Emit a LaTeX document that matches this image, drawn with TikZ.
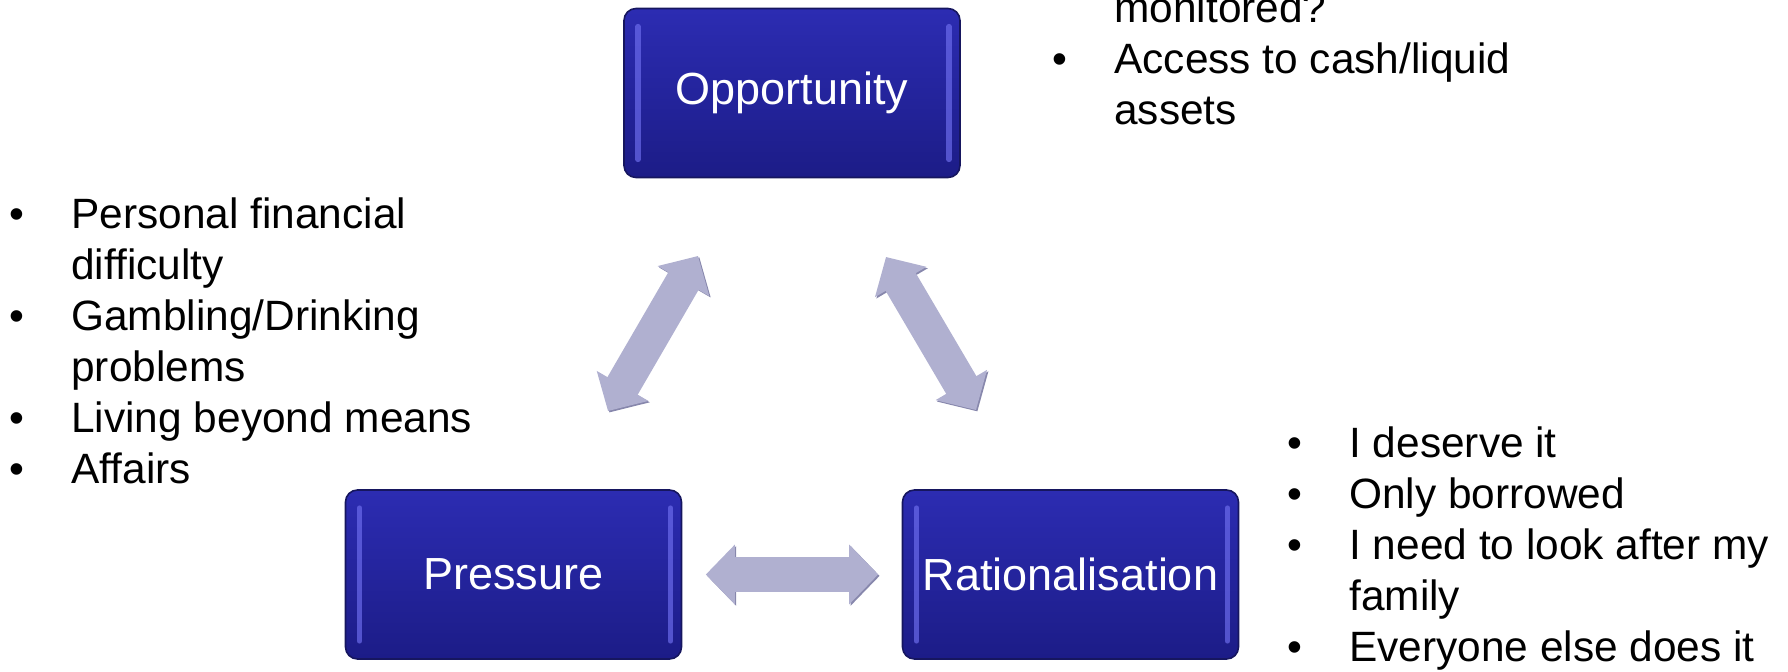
\documentclass[tikz,border=0pt]{standalone}
\usepackage{fontspec}
\setmainfont{Liberation Sans}
\usetikzlibrary{positioning,arrows.meta}

\definecolor{boxtop}{RGB}{44,44,178}
\definecolor{boxbot}{RGB}{28,28,135}
\definecolor{boxrim}{RGB}{22,22,95}
\definecolor{boxglint}{RGB}{112,112,240}
\definecolor{arrowfill}{RGB}{176,176,208}
\definecolor{arrowedge}{RGB}{135,135,172}

\tikzset{
  fraudbox/.style = {draw=boxrim, line width=0.8pt, rounded corners=6pt,
    top color=boxtop, bottom color=boxbot,
    minimum width=168pt, minimum height=84.5pt,
    text=white, font=\fontsize{22.5}{27}\selectfont,
    path picture={
      \draw[boxglint, line width=2.6pt, line cap=round, opacity=0.65]
        ([xshift=7pt,yshift=-9pt]path picture bounding box.north west) --
        ([xshift=7pt,yshift=9pt]path picture bounding box.south west);
      \draw[boxglint, line width=2.6pt, line cap=round, opacity=0.65]
        ([xshift=-5.5pt,yshift=-9pt]path picture bounding box.north east) --
        ([xshift=-5.5pt,yshift=9pt]path picture bounding box.south east);
    }},
  twoway/.style = {draw=arrowfill, line width=17.5pt,
    {Triangle[width=29pt,length=14.5pt]}-{Triangle[width=29pt,length=14.5pt]},
    preaction={draw=arrowedge, transform canvas={shift={(0.7pt,-0.7pt)}}}},
  bullets/.style = {anchor=base west, inner sep=0pt,
    font=\fontsize{21.2}{25.5}\selectfont}
}

\begin{document}
\begin{tikzpicture}[x=0.5pt, y=-0.5pt, on grid]
    \useasboundingbox (0,0) rectangle (1788,672);
    \clip (0,0) rectangle (1788,672);

    % the three corners of the triangle
    \node[fraudbox] (opp) at (792,93) {Opportunity};
    \node[fraudbox, below left=240.75pt and 139.25pt of opp] (pres) {Pressure};
    \node[fraudbox, right=278.5pt of pres] (rat) {Rationalisation};

    % ends of the slanted arrows
    \coordinate (oppL) at (698,256);
    \coordinate (presT) at (608,411);
    \coordinate (oppR) at (886,257);
    \coordinate (ratT) at (976,410);

    \draw[twoway] (presT) -- (oppL);
    \draw[twoway] (oppR) -- (ratT);
    \draw[twoway] ([xshift=11.75pt]pres.east) -- ([xshift=-11.75pt]rat.west);

    % bullet lists
    \node[bullets] (preslist) at (9,229) {\begin{tabular}[t]{@{}p{31pt}@{}l@{}}
        \textbullet & Personal financial\\
                    & difficulty\\
        \textbullet & Gambling/Drinking\\
                    & problems\\
        \textbullet & Living beyond means\\
        \textbullet & Affairs
    \end{tabular}};
    \node[bullets] (opplist) at (1052,23) {\begin{tabular}[t]{@{}p{31pt}@{}l@{}}
                    & monitored?\\
        \textbullet & Access to cash/liquid\\
                    & assets
    \end{tabular}};
    \node[bullets] (ratlist) at (1287,458) {\begin{tabular}[t]{@{}p{31pt}@{}l@{}}
        \textbullet & I deserve it\\
        \textbullet & Only borrowed\\
        \textbullet & I need to look after my\\
                    & family\\
        \textbullet & Everyone else does it
    \end{tabular}};
\end{tikzpicture}
\end{document}
